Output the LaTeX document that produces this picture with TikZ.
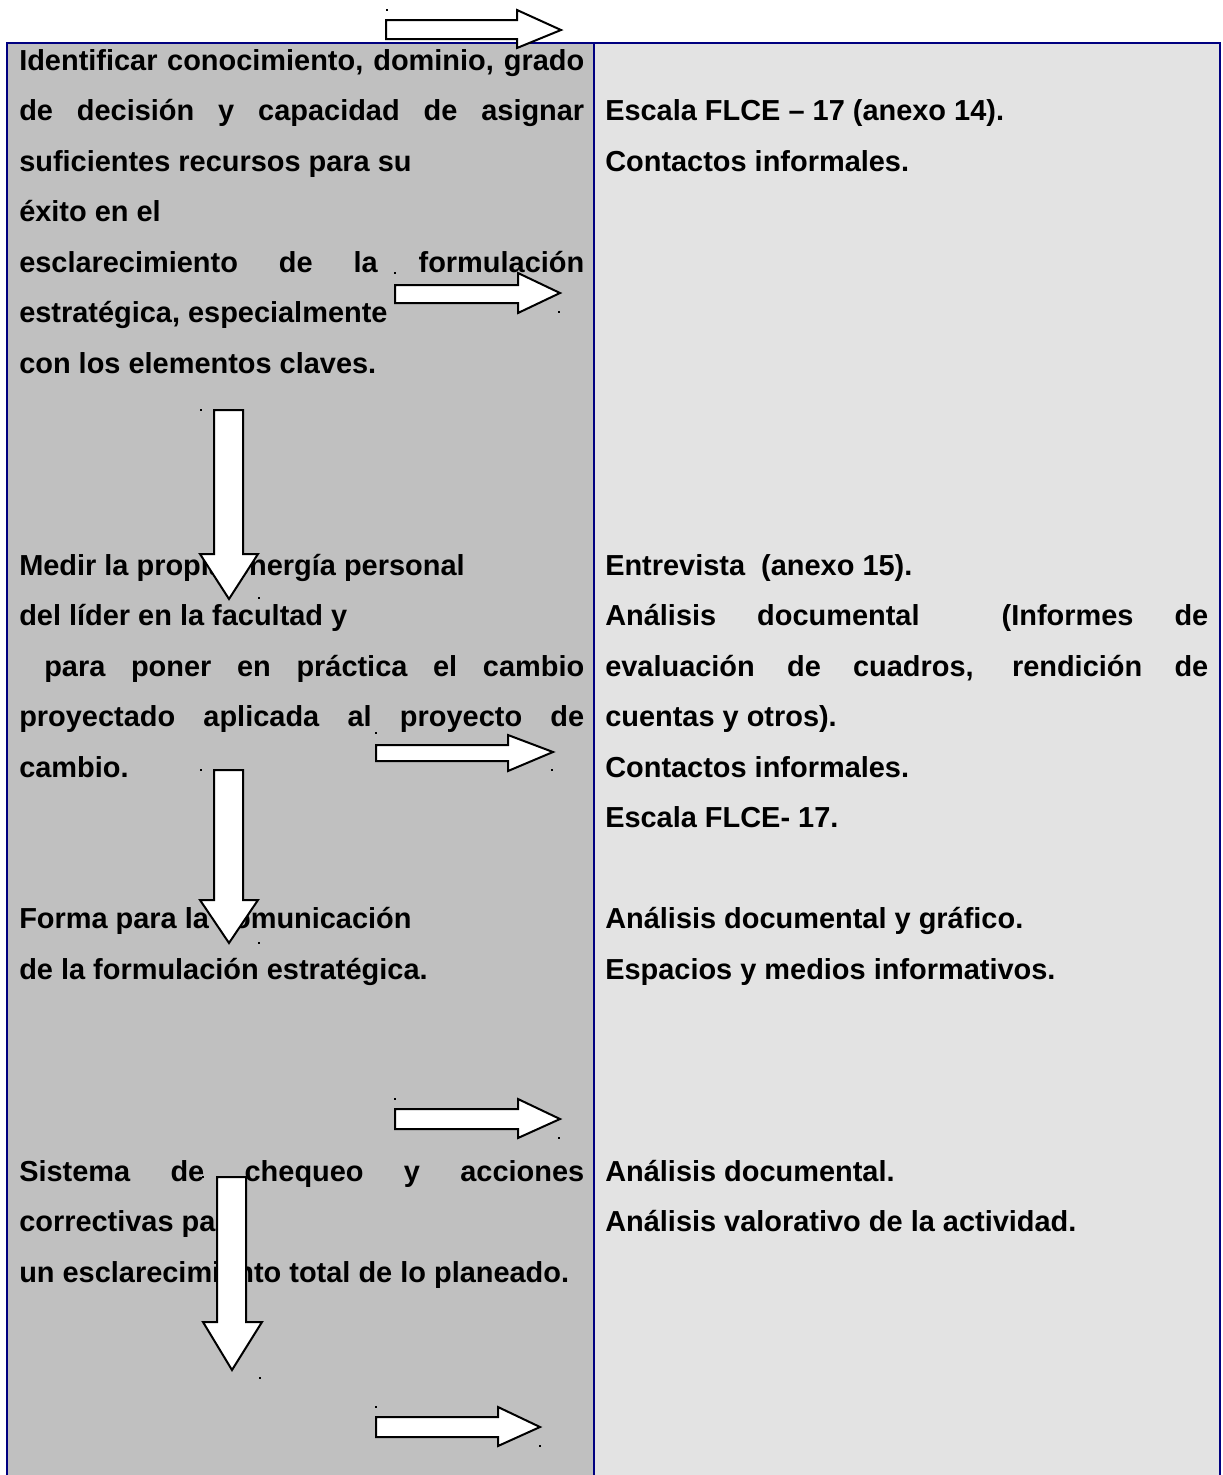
\documentclass[tikz,border=0pt]{standalone}
\usepackage{fontspec}
\setmainfont{Liberation Sans}
\definecolor{colleft}{HTML}{C0C0C0}
\definecolor{colright}{HTML}{E3E3E3}
\definecolor{rulenavy}{HTML}{000080}
\newcommand{\txtsize}{\fontsize{21.7}{24}\selectfont}
% justified line of a given width in px
\newcommand{\jst}[2]{\makebox[#1\dimexpr0.75pt\relax][s]{#2}}
\tikzset{
  cell/.style={inner sep=0pt, anchor=base west, font=\bfseries\txtsize},
  blockarrow/.style={draw=black, fill=white, line width=1.5pt, line join=miter},
  speck/.style={fill=black},
  tablerule/.style={draw=rulenavy, line width=1.6pt},
}
\begin{document}
\begin{tikzpicture}[x=0.75pt, y=-0.75pt]
\useasboundingbox (0,0) rectangle (1222,1475);

% table columns
\fill[colleft]  (7,43) rectangle (594,1475);
\fill[colright] (594,43) rectangle (1220,1475);
\draw[tablerule] (7,1475) -- (7,43) -- (1220,43) -- (1220,1475);
\draw[tablerule] (594,43) -- (594,1475);

% left column
\node[cell] (l0)  at (19,70)    {\jst{565}{Identificar conocimiento, dominio, grado}};
\node[cell] (l1)  at (19,120.5) {\jst{565}{de decisión y capacidad de asignar}};
\node[cell] (l2)  at (19,171)   {suficientes recursos para su};
\node[cell] (l3)  at (19,221.5) {éxito en el};
\node[cell] (l4)  at (19,272)   {\jst{565}{esclarecimiento de la formulación}};
\node[cell] (l5)  at (19,322.5) {estratégica, especialmente};
\node[cell] (l6)  at (19,373)   {con los elementos claves.};

\node[cell] (l10) at (19,575)   {Medir la propia energía personal};
\node[cell] (l11) at (19,625.5) {del líder en la facultad y};
\node[cell] (l12) at (44,676)   {\jst{540}{para poner en práctica el cambio}};
\node[cell] (l13) at (19,726.5) {\jst{565}{proyectado aplicada al proyecto de}};
\node[cell] (l14) at (19,777)   {cambio.};

\node[cell] (l17) at (19,928.5) {Forma para la comunicación};
\node[cell] (l18) at (19,979)   {de la formulación estratégica.};

\node[cell] (l22) at (19,1181)  {\jst{565}{Sistema de chequeo y acciones}};
\node[cell] (l23) at (19,1231.5){correctivas para};
\node[cell] (l24) at (19,1282)  {un esclarecimiento total de lo planeado.};

% right column
\node[cell] (r1)  at (605,120.5) {Escala FLCE – 17 (anexo 14).};
\node[cell] (r2)  at (605,171)   {Contactos informales.};

\node[cell] (r10) at (605,575)   {Entrevista\ \ (anexo 15).};
\node[cell] (r11) at (605,625.5) {\jst{603}{Análisis documental \ (Informes de}};
\node[cell] (r12) at (605,676)   {\jst{603}{evaluación de cuadros, rendición de}};
\node[cell] (r13) at (605,726.5) {cuentas y otros).};
\node[cell] (r14) at (605,777)   {Contactos informales.};
\node[cell] (r15) at (605,827.5) {Escala FLCE- 17.};

\node[cell] (r17) at (605,928.5) {Análisis documental y gráfico.};
\node[cell] (r18) at (605,979)   {Espacios y medios informativos.};

\node[cell] (r22) at (605,1181)  {Análisis documental.};
\node[cell] (r23) at (605,1231.5){Análisis valorativo de la actividad.};

% block arrows pointing right
\draw[blockarrow] (386,20) -- (517,20) -- (517,10) -- (561,30) -- (517,48) -- (517,39) -- (386,39) -- cycle;
\draw[blockarrow] (395,285) -- (518,285) -- (518,273) -- (560,293) -- (518,313) -- (518,303) -- (395,303) -- cycle;
\draw[blockarrow] (376,745) -- (508,745) -- (508,735) -- (553,752) -- (508,771) -- (508,761) -- (376,761) -- cycle;
\draw[blockarrow] (395,1109) -- (518,1109) -- (518,1099) -- (560,1119) -- (518,1138) -- (518,1129) -- (395,1129) -- cycle;
\draw[blockarrow] (376,1417) -- (498,1417) -- (498,1407) -- (540,1427) -- (498,1446) -- (498,1437) -- (376,1437) -- cycle;

% block arrows pointing down
\draw[blockarrow] (214,410) -- (243,410) -- (243,554) -- (258,554) -- (229,599) -- (200,554) -- (214,554) -- cycle;
\draw[blockarrow] (214,770) -- (243,770) -- (243,900) -- (258,900) -- (229,943) -- (200,900) -- (214,900) -- cycle;
\draw[blockarrow] (217,1177) -- (246,1177) -- (246,1322) -- (262,1322) -- (232,1370) -- (203,1322) -- (217,1322) -- cycle;

% small corner marks of the drawing objects
\foreach \p in {(387,10),(395,273),(559,312),(376,733),(552,770),(395,1099),(559,1138),(376,1407),(540,1446),
                (201,410),(259,598),(201,770),(259,943),(203,1177),(260,1378)}
  \fill[speck] \p ++(-1,-1) rectangle ++(2,2);
\end{tikzpicture}
\end{document}
